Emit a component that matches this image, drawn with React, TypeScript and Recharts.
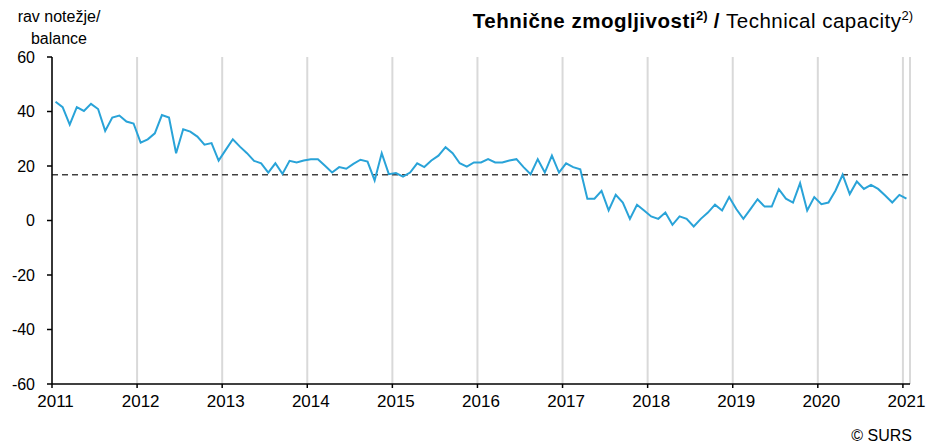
import { CartesianGrid, Line, LineChart, ReferenceLine, XAxis, YAxis } from "recharts";

// monthly balance, Jan 2011 .. Jan 2021
const values = [
  43.6, 41.6, 35.2, 41.6, 40.2, 42.8, 40.9, 32.9, 37.8, 38.5, 36.3, 35.6,
  28.6, 29.8, 32.0, 38.7, 37.8, 24.7, 33.5, 32.6, 30.8, 27.8, 28.4, 22.0,
  25.9, 29.8, 27.1, 24.7, 21.9, 21.0, 17.6, 21.0, 17.1, 21.9, 21.3, 22.0,
  22.5, 22.5, 20.1, 17.6, 19.6, 19.0, 20.8, 22.3, 21.6, 14.7, 24.7, 17.0,
  17.4, 16.1, 17.6, 21.0, 19.6, 22.0, 23.8, 26.9, 24.7, 21.0, 19.8, 21.3,
  21.3, 22.5, 21.3, 21.3, 22.0, 22.5, 19.6, 17.0, 22.5, 17.6, 23.8, 17.6,
  21.0, 19.6, 18.8, 8.0, 8.0, 10.9, 3.7, 9.4, 6.6, 0.6, 5.8, 3.7,
  1.5, 0.6, 2.9, -1.6, 1.5, 0.6, -2.2, 0.6, 2.9, 5.8, 3.7, 8.6,
  4.2, 0.6, 4.2, 7.8, 5.1, 5.1, 11.5, 8.0, 6.6, 13.7, 3.7, 8.6,
  6.0, 6.6, 11.0, 16.8, 9.7, 14.3, 11.6, 13.1, 11.6, 9.2, 6.6, 9.4,
  8.0,
];

const yearLabels = ["2011", "2012", "2013", "2014", "2015", "2016", "2017", "2018", "2019", "2020", "2021"];
const yTicks = [-60, -40, -20, 0, 20, 40, 60];
const longTermAverage = 16.8;

const W = 933;
const H = 447;
const MARGIN = { top: 57, right: 23, left: 0, bottom: 33 };
const Y_AXIS_W = 52;
const PLOT_W = W - MARGIN.left - MARGIN.right - Y_AXIS_W;
const HALF_MONTH = PLOT_W / values.length / 2;

const data = values.map((v, i) => ({ x: i + 0.5, value: v }));
const yearTicks = yearLabels.map((_, i) => i * 12);

const FONT = "'Liberation Sans', Arial, sans-serif";

function YearTick(props: any) {
  const { x, y, payload } = props;
  const label = yearLabels[Math.round(payload.value / 12)];
  return (
    <text x={x + HALF_MONTH} y={y} dy="0.75em" textAnchor="middle" fontSize={17} fill="#000" fontFamily={FONT}>
      {label}
    </text>
  );
}

export default function App() {
  return (
    <div style={{ position: "absolute", left: 0, top: 0, width: W, height: H, fontFamily: FONT, background: "#fff" }}>
      <div style={{ position: "absolute", left: 0, top: 6, width: 118, textAlign: "center", fontSize: 16, lineHeight: "22px", color: "#000" }}>
        rav notežje/
        <br />
        balance
      </div>
      <div style={{ position: "absolute", right: 20, top: 8, fontSize: 20.5, letterSpacing: 0.5, color: "#000", whiteSpace: "nowrap" }}>
        <b>Tehnične zmogljivosti</b>
        <sup style={{ fontSize: 13, fontWeight: "bold", letterSpacing: 0 }}>2)</sup>
        <b> / </b>
        Technical capacity
        <sup style={{ fontSize: 13, letterSpacing: 0 }}>2)</sup>
      </div>
      <LineChart width={W} height={H} data={data} margin={MARGIN}>
        <CartesianGrid horizontal={false} stroke="#d9d9d9" strokeWidth={2} />
        <XAxis
          type="number"
          dataKey="x"
          domain={[0, values.length]}
          ticks={yearTicks}
          interval={0}
          tick={YearTick}
          tickSize={4}
          tickMargin={6}
          height={30}
          axisLine={{ stroke: "#000", strokeWidth: 1.5 }}
          tickLine={{ stroke: "#000", strokeWidth: 1.5 }}
        />
        <YAxis
          type="number"
          domain={[-60, 60]}
          ticks={yTicks}
          interval={0}
          width={Y_AXIS_W}
          tickSize={5}
          tickMargin={12}
          tick={{ fontSize: 16, fill: "#000", fontFamily: FONT }}
          axisLine={{ stroke: "#000", strokeWidth: 1.5 }}
          tickLine={{ stroke: "#000", strokeWidth: 1.5 }}
        />
        <ReferenceLine y={longTermAverage} stroke="#404040" strokeWidth={1.5} strokeDasharray="6 4" />
        <Line
          type="linear"
          dataKey="value"
          stroke="#29a3d8"
          strokeWidth={2}
          dot={false}
          isAnimationActive={false}
        />
      </LineChart>
      <div style={{ position: "absolute", right: 21, top: 427, fontSize: 16, color: "#000" }}>© SURS</div>
    </div>
  );
}
